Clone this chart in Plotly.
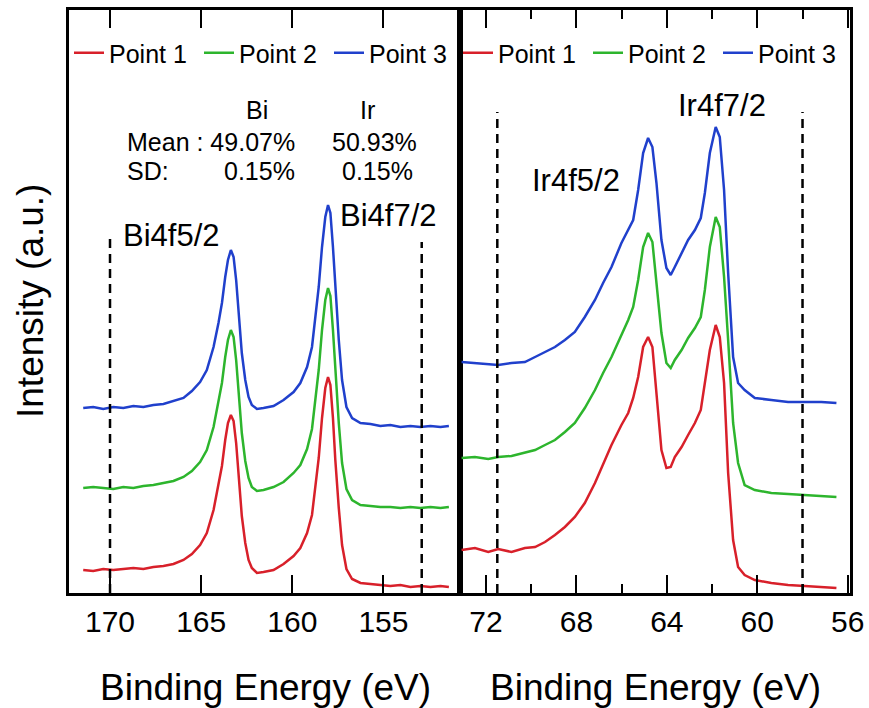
import plotly.graph_objects as go

W, H = 869, 708

# ---------------- Bi 4f panel (binding energy in eV, intensity in a.u.) ----------------
bi_energy = [171.47, 170.92, 170.37, 169.82, 169.27, 168.72, 168.17, 167.62, 167.07, 166.52,
             165.97, 165.51, 165.06, 164.69, 164.32, 164.05, 163.86, 163.68, 163.53, 163.37,
             163.22, 163.08, 162.95, 162.77, 162.58, 162.40, 162.22, 161.94, 161.58, 161.03,
             160.48, 159.93, 159.56, 159.19, 158.92, 158.74, 158.55, 158.37, 158.19, 158.04,
             157.91, 157.77, 157.64, 157.45, 157.27, 157.03, 156.72, 156.26, 155.71, 155.17,
             154.62, 154.07, 153.52, 152.97, 152.42, 151.87, 151.41]
bi_point1 = [23, 22, 24, 23, 24, 25, 24, 26, 27, 29,
             33, 39, 48, 60, 83, 107, 127, 153, 170, 178,
             172, 150, 117, 77, 50, 33, 25, 20, 21, 23,
             29, 37, 45, 60, 78, 103, 135, 175, 205, 216,
             208, 175, 133, 85, 48, 24, 14, 10, 9, 8,
             7, 8, 6, 7, 6, 7, 6]
bi_point2 = [105, 106, 105, 104, 106, 105, 107, 108, 110, 112,
             116, 122, 131, 143, 166, 190, 210, 236, 253, 263,
             256, 233, 200, 160, 132, 115, 106, 102, 103, 106,
             111, 120, 128, 144, 164, 190, 223, 263, 293, 305,
             297, 263, 220, 170, 130, 104, 93, 88, 87, 86,
             86, 85, 86, 85, 86, 85, 86]
bi_point3 = [185, 186, 184, 186, 185, 187, 186, 188, 189, 192,
             195, 202, 211, 223, 246, 270, 290, 316, 333, 343,
             336, 313, 280, 240, 213, 196, 188, 184, 185, 187,
             193, 201, 210, 226, 246, 273, 306, 346, 376, 388,
             380, 346, 303, 253, 213, 186, 175, 170, 169, 167,
             168, 166, 167, 166, 167, 166, 167]

# ---------------- Ir 4f panel ----------------
ir_energy = [73.08, 72.49, 71.90, 71.46, 70.87, 70.28, 69.83, 69.39, 68.95, 68.51,
             68.07, 67.63, 67.18, 66.82, 66.45, 66.01, 65.71, 65.49, 65.27, 65.05,
             64.83, 64.64, 64.46, 64.24, 64.02, 63.83, 63.65, 63.35, 63.06, 62.76,
             62.50, 62.32, 62.10, 61.84, 61.66, 61.47, 61.29, 61.07, 60.85, 60.56,
             60.11, 59.38, 58.64, 57.90, 57.17, 56.50]
ir_point1 = [43, 45, 41, 44, 41, 45, 46, 51, 58, 66,
             76, 90, 110, 128, 148, 168, 180, 195, 216, 246,
             256, 246, 203, 143, 125, 126, 136, 146, 158, 170,
             183, 210, 243, 268, 256, 210, 120, 53, 26, 18,
             13, 10, 8, 7, 6, 5]
ir_point2 = [135, 136, 134, 136, 137, 140, 143, 148, 153, 161,
             170, 185, 203, 220, 236, 258, 273, 286, 313, 346,
             360, 351, 313, 260, 230, 225, 233, 243, 255, 265,
             276, 303, 346, 376, 366, 316, 253, 170, 130, 108,
             103, 100, 99, 98, 97, 96]
ir_point3 = [231, 230, 229, 228, 230, 231, 236, 241, 246, 253,
             261, 276, 293, 310, 326, 350, 363, 373, 403, 440,
             455, 446, 410, 353, 325, 318, 326, 340, 353, 363,
             375, 400, 440, 466, 456, 403, 320, 236, 210, 203,
             195, 193, 191, 191, 191, 190]

series_names = ["Point 1", "Point 2", "Point 3"]
colors = ["#D8202A", "#2DB52D", "#2040CC"]

# dashed integration limits (eV) and their top heights (a.u.)
bi_dash_x = [170.0, 152.9]
bi_dash_top = [355, 351]
ir_dash_x = [71.5, 58.0]
ir_dash_top = [481, 481]

y_range = [0, 583]
bi_range = [172.25, 150.8]
ir_range = [73.15, 55.9]

FONT = "Arial, Liberation Sans, sans-serif"

fig = go.Figure()
for name, ys, c in zip(series_names, [bi_point1, bi_point2, bi_point3], colors):
    fig.add_trace(go.Scatter(x=bi_energy, y=ys, mode="lines", name=name,
                             line=dict(color=c, width=2.5), xaxis="x", yaxis="y",
                             legend="legend"))
for name, ys, c in zip(series_names, [ir_point1, ir_point2, ir_point3], colors):
    fig.add_trace(go.Scatter(x=ir_energy, y=ys, mode="lines", name=name,
                             line=dict(color=c, width=2.5), xaxis="x2", yaxis="y2",
                             legend="legend2"))

for xv, top in zip(bi_dash_x, bi_dash_top):
    fig.add_shape(type="line", xref="x", yref="y", x0=xv, x1=xv, y0=0, y1=top,
                  line=dict(color="black", width=2.5, dash="9px,6px"))
for xv, top in zip(ir_dash_x, ir_dash_top):
    fig.add_shape(type="line", xref="x2", yref="y2", x0=xv, x1=xv, y0=0, y1=top,
                  line=dict(color="black", width=2.5, dash="9px,6px"))

def px(x):
    return x / W

def py(y):
    return 1 - y / H

ydom = [py(593), py(10)]
common_x = dict(showline=True, linewidth=3, linecolor="black", mirror="ticks",
                ticks="inside", ticklen=18, tickwidth=2, tickcolor="black",
                showgrid=False, zeroline=False,
                tickfont=dict(family=FONT, size=30, color="black"), tickmode="linear")
common_y = dict(showline=True, linewidth=3, linecolor="black", mirror=True,
                ticks="", showticklabels=False, showgrid=False, zeroline=False,
                range=y_range, domain=ydom)

fig.update_layout(
    width=W, height=H, margin=dict(l=0, r=0, t=0, b=0, autoexpand=False),
    paper_bgcolor="white", plot_bgcolor="white",
    font=dict(family=FONT, color="black"),
    xaxis=dict(domain=[px(69), px(460)], range=bi_range, tick0=150, dtick=5, anchor="y",
               **common_x),
    xaxis2=dict(domain=[px(460), px(850)], range=ir_range, tick0=56, dtick=4, anchor="y2",
                minor=dict(ticks="inside", ticklen=9, tickwidth=2, tickcolor="black", dtick=2, tick0=56),
                **common_x),
    yaxis=dict(anchor="x", **common_y),
    yaxis2=dict(anchor="x2", **common_y),
    legend=dict(orientation="h", x=px(69), xanchor="left", y=py(53), yanchor="middle",
                bgcolor="rgba(0,0,0,0)", font=dict(family=FONT, size=25, color="black"),
                entrywidth=85, entrywidthmode="pixels", borderwidth=0),
    legend2=dict(orientation="h", x=px(458), xanchor="left", y=py(53), yanchor="middle",
                 bgcolor="rgba(0,0,0,0)", font=dict(family=FONT, size=25, color="black"),
                 entrywidth=85, entrywidthmode="pixels", borderwidth=0),
    showlegend=True,
)

def ann(text, x, y, size, xanchor="center", angle=0):
    fig.add_annotation(text=text, xref="paper", yref="paper", x=px(x), y=py(y),
                       xanchor=xanchor, yanchor="middle", showarrow=False, textangle=angle,
                       font=dict(family=FONT, size=size, color="black"))

# stats box
ann("Bi", 257, 110, 25)
ann("Ir", 367, 110, 25)
ann("Mean : 49.07%", 125, 142, 25, "left")
ann("50.93%", 330, 142, 25, "left")
ann("SD:", 125, 171, 25, "left")
ann("0.15%", 222, 171, 25, "left")
ann("0.15%", 340, 171, 25, "left")

# peak labels
ann("Bi4f5/2", 171, 236, 31)
ann("Bi4f7/2", 388, 215, 31)
ann("Ir4f5/2", 576, 180, 31)
ann("Ir4f7/2", 722, 105, 31)

# axis titles
ann("Binding Energy (eV)", 265, 687, 37)
ann("Binding Energy (eV)", 655, 687, 37)
ann("Intensity (a.u.)", 30, 301, 37, angle=-90)

fig.write_html("out.html")
